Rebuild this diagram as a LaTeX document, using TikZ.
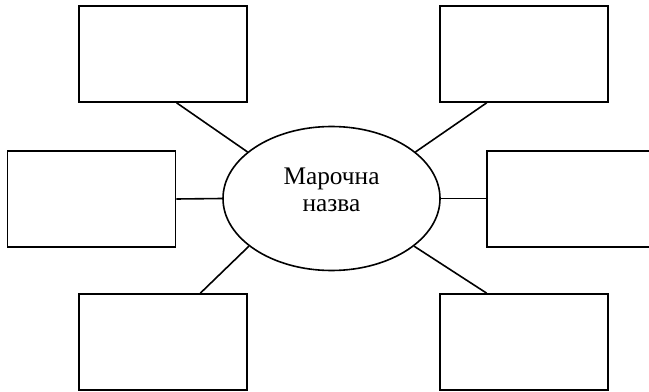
\documentclass[tikz,border=0pt]{standalone}
\usepackage{fontspec}
\setmainfont{Liberation Serif}
\usetikzlibrary{shapes.geometric,calc}
\begin{document}
\begin{tikzpicture}[x=0.75pt,y=-0.75pt,
  box/.style={draw,line width=1.2pt,rectangle,inner sep=0pt,minimum width=126pt,minimum height=72pt},
  conn/.style={line width=1.2pt}]
\useasboundingbox (0,0) rectangle (649,392);
\node[box] (tl) at (163,54) {};
\node[box] (tr) at (524,54) {};
\node[box] (ml) at (91.5,199) {};
\node[box,minimum width=127.5pt] (mr) at (572,199) {};
\node[box] (bl) at (163,342) {};
\node[box] (br) at (524,342) {};
\node[draw,line width=1.2pt,ellipse,inner sep=0pt,minimum width=162.75pt,minimum height=108pt] (e) at (331.5,198.5) {};
\node[align=center,inner sep=0pt,font=\fontsize{19}{20.5}\selectfont] (t) at (331.5,190) {Марочна\\назва};
\draw[conn] ($(tl.south west)!0.58!(tl.south east)$) -- (e.151);
\draw[conn] ($(tr.south west)!0.28!(tr.south east)$) -- (e.29);
\draw[conn] ($(bl.north west)!0.72!(bl.north east)$) -- (e.210);
\draw[conn] ($(br.north west)!0.28!(br.north east)$) -- (e.330);
\draw[conn] (ml.east) -- (e.west);
\draw[conn] (e.east) -- (e.east -| mr.west);
\end{tikzpicture}
\end{document}
